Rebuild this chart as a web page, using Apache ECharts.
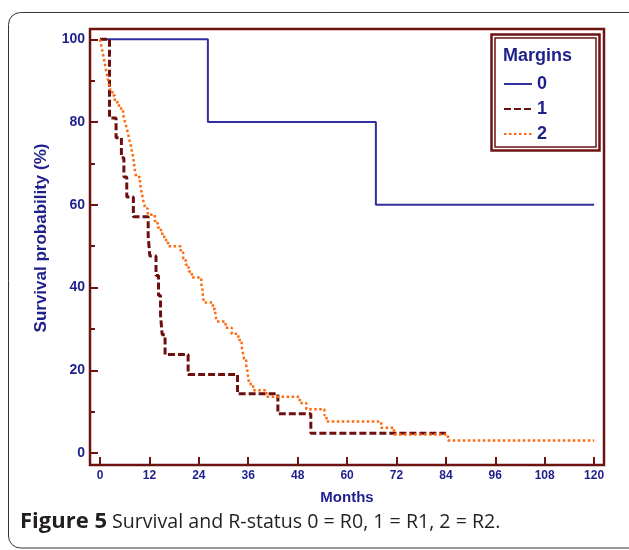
<!DOCTYPE html>
<html>
<head>
<meta charset="utf-8">
<script src="https://cdn.jsdelivr.net/npm/echarts@6/dist/echarts.min.js"></script>
<style>
html,body{margin:0;padding:0;background:#fff;}
#chart{width:629px;height:550px;}
</style>
</head>
<body>
<div id="chart"></div>
<script>
// ---- data ----
const seriesNames = ['0', '1', '2'];
const xTicks = [0, 12, 24, 36, 48, 60, 72, 84, 96, 108, 120];
const yTicks = [0, 20, 40, 60, 80, 100];
const yMinorTicks = [10, 30, 50, 70, 90];

// Margins 0 (R0)
const months0 = [0, 26.2, 67.0, 120];
const surv0   = [100, 80, 60, 60];

// Margins 1 (R1)
const months1 = [0, 2.3, 3.9, 5.2, 5.8, 6.5, 8.1, 11.7, 12.1, 13.6, 14.2, 14.7, 15.1, 15.8, 21.4, 33.4, 43.2, 51.2, 84];
const surv1   = [100, 81.0, 76.2, 71.4, 66.7, 61.9, 57.1, 52.4, 47.6, 42.9, 38.1, 33.3, 28.6, 23.8, 19.0, 14.3, 9.5, 4.8, 4.8];

// Margins 2 (R2)
const months2 = [0, 0.3, 0.6, 0.9, 1.2, 1.5, 1.8, 2.1, 2.4, 3.0, 3.6, 4.6, 5.6, 6.0, 6.4, 6.8, 7.1, 7.5, 7.8, 8.1, 8.3, 8.5, 8.8, 9.7, 10.0, 10.3, 10.6, 11.0, 11.6, 13.3, 14.0, 14.8, 15.6, 16.5, 19.6, 20.2, 20.8, 21.5, 22.3, 24.6, 24.9, 25.0, 25.2, 27.4, 28.0, 28.4, 30.5, 32.0, 33.6, 34.4, 34.7, 35.0, 35.5, 35.8, 36.0, 36.2, 37.2, 40.4, 48.5, 50.1, 54.5, 55.0, 68.3, 71.4, 84.5, 120];
const surv2   = [100, 98.5, 97.0, 95.5, 94.0, 92.4, 90.9, 89.4, 87.9, 86.4, 84.8, 83.3, 81.8, 80.3, 78.8, 77.3, 75.8, 74.2, 72.7, 71.2, 69.7, 68.2, 66.7, 65.2, 63.6, 62.1, 60.6, 59.1, 57.6, 56.1, 54.5, 53.0, 51.5, 50.0, 48.5, 47.0, 45.5, 43.9, 42.4, 40.9, 39.4, 37.9, 36.4, 34.8, 33.3, 31.8, 30.3, 28.8, 27.3, 25.8, 24.2, 22.7, 21.2, 19.7, 18.2, 16.7, 15.2, 13.6, 12.1, 10.6, 9.1, 7.6, 6.1, 4.5, 3.0, 3.0];

const pairs = (xs, ys) => xs.map((x, i) => [x, ys[i]]);

// ---- style ----
const NAVY = '#1f1f8c';
const FRAME = '#6e1212';
const BLUE = '#2f2fa0';
const DARKRED = '#6e0f0f';
const ORANGE = '#ff6a10';
const LABEL_FONT = "'Liberation Sans Narrow', 'Liberation Sans', Arial, sans-serif";
const CAP_FONT = "'Open Sans', 'Noto Sans', sans-serif";

const chart = echarts.init(document.getElementById('chart'), null, {renderer: 'canvas'});

const option = {
  backgroundColor: '#fff',
  animation: false,
  grid: {
    left: 90, right: 25, top: 29, bottom: 85,
    show: true, borderColor: FRAME, borderWidth: 2.5, backgroundColor: '#fff'
  },
  xAxis: {
    type: 'value', min: -2.43, max: 122.4,
    name: 'Months', nameLocation: 'middle', nameGap: 25,
    nameTextStyle: {color: NAVY, fontWeight: 'bold', fontSize: 15, fontFamily: LABEL_FONT},
    axisLine: {show: false, onZero: false},
    splitLine: {show: false},
    axisTick: {show: true, inside: true, length: 8, customValues: xTicks, lineStyle: {color: FRAME, width: 2}},
    axisLabel: {customValues: xTicks, color: NAVY, fontWeight: 'bold', fontSize: 12, fontFamily: LABEL_FONT, margin: 5}
  },
  yAxis: [{
    type: 'value', min: -2.9, max: 102.5,
    name: 'Survival probability (%)', nameLocation: 'middle', nameGap: 40, nameRotate: 90,
    nameTextStyle: {color: NAVY, fontWeight: 'bold', fontSize: 17, fontFamily: LABEL_FONT, padding: [0, 0, 0, 18]},
    axisLine: {show: false, onZero: false},
    splitLine: {show: false},
    axisTick: {show: true, inside: true, length: 8, customValues: yTicks, lineStyle: {color: FRAME, width: 2}},
    axisLabel: {customValues: yTicks, color: NAVY, fontWeight: 'bold', fontSize: 14, fontFamily: LABEL_FONT, margin: 5}
  }, {
    type: 'value', min: -2.9, max: 102.5, position: 'left', offset: 0,
    axisLine: {show: false, onZero: false}, splitLine: {show: false},
    axisTick: {show: true, inside: true, length: 5, customValues: yMinorTicks, lineStyle: {color: FRAME, width: 2}},
    axisLabel: {show: false}
  }],
  legend: {
    orient: 'vertical', left: 503, top: 75, z: 20, padding: 0,
    itemWidth: 28, itemHeight: 14, itemGap: 7,
    data: seriesNames,
    itemStyle: {color: 'rgba(0,0,0,0)', borderWidth: 0, opacity: 0},
    textStyle: {color: NAVY, fontWeight: 'bold', fontSize: 18, fontFamily: LABEL_FONT}
  },
  series: [{
    name: seriesNames[0], type: 'line', step: 'end', data: pairs(months0, surv0),
    symbol: 'none', showSymbol: false, z: 2,
    lineStyle: {color: BLUE, width: 2, type: 'solid'}, itemStyle: {color: BLUE}
  }, {
    name: seriesNames[1], type: 'line', step: 'end', data: pairs(months1, surv1),
    symbol: 'none', showSymbol: false, z: 3,
    lineStyle: {color: DARKRED, width: 3, type: [7, 3]}, itemStyle: {color: DARKRED}
  }, {
    name: seriesNames[2], type: 'line', step: 'end', data: pairs(months2, surv2),
    symbol: 'none', showSymbol: false, z: 4,
    lineStyle: {color: ORANGE, width: 2.5, type: [2.5, 2.5]}, itemStyle: {color: ORANGE}
  }],
  graphic: [
    {type: 'rect', shape: {x: 8.5, y: 12.5, width: 640, height: 535.5, r: 12},
     style: {fill: null, stroke: '#333', lineWidth: 1}, z: -10, silent: true},
    {type: 'rect', shape: {x: 491.5, y: 34.5, width: 108, height: 116},
     style: {fill: null, stroke: FRAME, lineWidth: 2.5}, z: 5, silent: true},
    {type: 'rect', shape: {x: 495, y: 38, width: 101, height: 109},
     style: {fill: null, stroke: FRAME, lineWidth: 1.5}, z: 5, silent: true},
    {type: 'text', left: 503, top: 47, z: 6,
     style: {text: 'Margins', fill: NAVY, font: "bold 18px " + LABEL_FONT}},
    {type: 'text', left: 20, top: 511, z: 6,
     style: {
       text: '{b|Figure 5} Survival and R-status 0 = R0, 1 = R1, 2 = R2.',
       fill: '#231f20', font: "19.6px " + CAP_FONT,
       rich: {b: {fontWeight: 'bold', fontSize: 22, fontFamily: CAP_FONT, fill: '#231f20'}}
     }}
  ]
};
chart.setOption(option);
</script>
</body>
</html>
